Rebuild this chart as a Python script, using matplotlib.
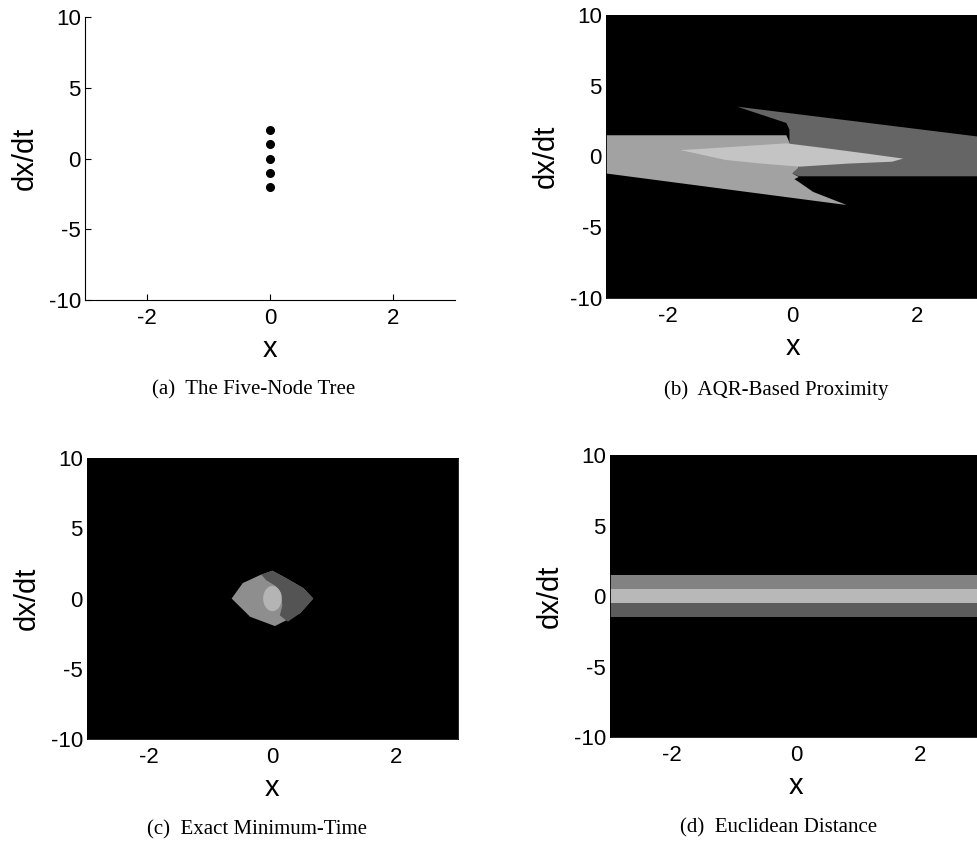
import matplotlib.pyplot as plt
from matplotlib.patches import Ellipse

plt.rcParams['font.family'] = ['Liberation Sans', 'DejaVu Sans']
plt.rcParams['axes.unicode_minus'] = False

# (a) the five tree nodes, all at x = 0
node_x = [0, 0, 0, 0, 0]
node_v = [2, 1, 0, -1, -2]

# (b) AQR-based proximity: region outlines (x, dx/dt)
aqr_light_x = [-3.0, -0.1, -0.05, 0.1, 0.0, 0.1, 0.03, 0.1, 0.33, 0.87, -3.0]
aqr_light_y = [1.5, 1.5, 1.0, -0.8, -1.2, -1.45, -1.6, -1.8, -2.5, -3.43, -1.2]
aqr_dark_x = [-0.89, 3.0, 3.0, 0.1, 0.0, 0.1, -0.05, -0.05, -0.1]
aqr_dark_y = [3.52, 1.4, -1.4, -1.4, -1.2, -0.8, 1.0, 1.9, 2.37]
aqr_core_x = [-1.8, -1.07, -0.1, 0.54, 1.2, 1.78, 1.6, 0.9, 0.11, -0.5, -1.07]
aqr_core_y = [0.45, 0.65, 0.93, 0.58, 0.2, -0.15, -0.37, -0.5, -0.72, -0.5, -0.25]

# (c) exact minimum-time regions
mt_lens_x = [-0.66, -0.48, -0.2, 0.0, 0.23, 0.5, 0.66, 0.45, 0.04, -0.36]
mt_lens_y = [0.0, 1.1, 1.67, 1.98, 1.43, 0.74, 0.0, -1.04, -1.96, -1.3]
mt_dark_x = [-0.18, 0.0, 0.23, 0.5, 0.66, 0.45, 0.25, 0.12, 0.16, 0.14, 0.05, -0.1]
mt_dark_y = [1.7, 1.98, 1.43, 0.74, 0.0, -1.04, -1.65, -1.2, -0.5, 0.4, 0.9, 1.3]
mt_core = (0.0, 0.0)
mt_core_w, mt_core_h = 0.3, 1.8

# (d) euclidean distance bands
band_lo = [0.5, -0.5, -1.5]
band_hi = [1.5, 0.5, -0.5]
band_col = ['#828282', '#b8b8b8', '#5c5c5c']

xticks = [-2, 0, 2]
yticks = [-10, -5, 0, 5, 10]
captions = ['(a)  The Five-Node Tree', '(b)  AQR-Based Proximity',
            '(c)  Exact Minimum-Time', '(d)  Euclidean Distance']


def setup(ax, dark=True):
    ax.set_xlim(-3, 3)
    ax.set_ylim(-10, 10)
    ax.set_xticks(xticks)
    ax.set_yticks(yticks)
    ax.tick_params(direction='in', length=0 if dark else 4, labelsize=16)
    ax.tick_params(axis='x', pad=6)
    ax.tick_params(axis='y', pad=3)
    ax.set_xlabel('x', fontsize=21)
    ax.set_ylabel('dx/dt', fontsize=21)
    ax.xaxis.set_label_coords(0.5, -0.125)
    ax.yaxis.set_label_coords(-0.125, 0.5)
    if dark:
        ax.set_facecolor('black')
        for s in ax.spines.values():
            s.set_linewidth(0.6)
    else:
        ax.spines['top'].set_visible(False)
        ax.spines['right'].set_visible(False)


fig = plt.figure(figsize=(9.77, 8.42), dpi=100)
ax_a = fig.add_axes([0.087, 0.6437, 0.3787, 0.3361])
ax_b = fig.add_axes([0.6203, 0.6461, 0.3818, 0.3361])
ax_c = fig.add_axes([0.089, 0.1223, 0.3797, 0.3337])
ax_d = fig.add_axes([0.6244, 0.1247, 0.3808, 0.3349])

setup(ax_a, dark=False)
ax_a.plot(node_x, node_v, 'o', color='black', markersize=5.5)

setup(ax_b)
ax_b.fill(aqr_light_x, aqr_light_y, color='#a2a2a2', lw=0)
ax_b.fill(aqr_dark_x, aqr_dark_y, color='#656565', lw=0)
ax_b.fill(aqr_core_x, aqr_core_y, color='#c4c4c4', lw=0)

setup(ax_c)
ax_c.fill(mt_lens_x, mt_lens_y, color='#8e8e8e', lw=0)
ax_c.fill(mt_dark_x, mt_dark_y, color='#545454', lw=0)
ax_c.add_patch(Ellipse(mt_core, mt_core_w, mt_core_h, color='#b4b4b4', lw=0))

setup(ax_d)
for lo, hi, c in zip(band_lo, band_hi, band_col):
    ax_d.axhspan(lo, hi, color=c, lw=0)

cap_pos = [(0.26, 0.537), (0.795, 0.537), (0.263, 0.0145), (0.797, 0.0165)]
for (cx, cy), txt in zip(cap_pos, captions):
    fig.text(cx, cy, txt, ha='center', va='center', fontsize=15,
             family=['Liberation Serif', 'DejaVu Serif'])

fig.savefig('out.png', dpi=100)
